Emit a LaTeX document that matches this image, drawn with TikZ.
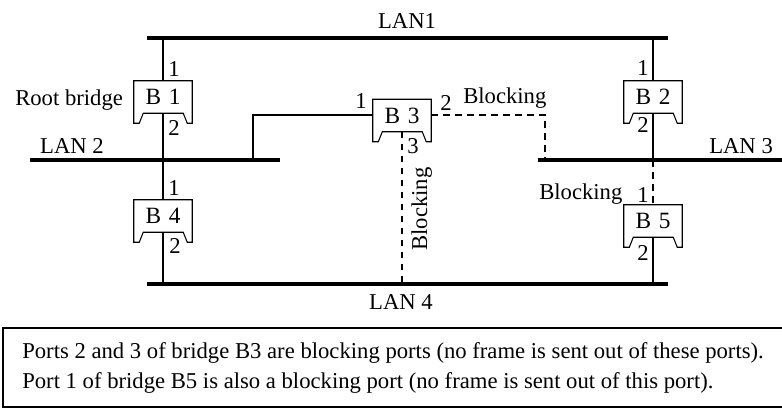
\documentclass[tikz,border=0pt]{standalone}
\usepackage{fontspec}
\setmainfont{Liberation Serif}
\usepackage{tikz}

\tikzset{
  lan/.style = {line width = 3pt},
  link/.style = {line width = 1.6pt},
  thinlink/.style = {line width = 1.1pt},
  block/.style = {line width = 1.4pt, dash pattern = on 5pt off 4pt},
  bridge/.style = {minimum width = 43.5pt, minimum height = 31.5pt, inner sep = 0,
    text height = 12pt, text depth = 7.6pt, font = \fontsize{17.5}{20}\selectfont},
  lbl/.style = {inner sep = 0, font = \fontsize{17}{20}\selectfont},
  note/.style = {inner sep = 0, anchor = base west, font = \fontsize{17}{20}\selectfont},
}
% outline of a bridge, with the notch at its foot
\newcommand\bridgeframe[1]{%
  \draw[line width = .8pt] (#1.south west) -- (#1.north west) -- (#1.north east)
    -- (#1.south east) -- ++(-5, 0) -- ++(-4, -10) -- ++(-40, 0) -- ++(-4, 10) -- cycle;}
\newcommand\bname[1]{B\hspace{.33em}#1}

\begin{document}
\begin{tikzpicture}[x = .75pt, y = -.75pt]
  \useasboundingbox (0, 0) rectangle (782, 409);
  % LANs
  \coordinate (lan1w) at (147, 38);  \coordinate (lan1e) at (668, 38);
  \coordinate (lan2w) at (30, 160);  \coordinate (lan2e) at (280, 160);
  \coordinate (lan3w) at (538, 160); \coordinate (lan3e) at (782, 160);
  \coordinate (lan4w) at (147, 284); \coordinate (lan4e) at (668, 284);
  \draw[lan] (lan1w) -- (lan1e);
  \draw[lan] (lan2w) -- (lan2e);
  \draw[lan] (lan3w) -- (lan3e);
  \draw[lan] (lan4w) -- (lan4e);
  \node[lbl] (t1) at (407, 21) {LAN1};
  \node[lbl] (t2) at (72, 146) {LAN 2};
  \node[lbl, anchor = west] (t3) at (709, 146) {LAN 3};
  \node[lbl] (t4) at (401, 302) {LAN 4};
  % bridges
  \node[bridge] (b1) at (163, 102) {\bname1};   \bridgeframe{b1}
  \node[bridge] (b2) at (653, 102) {\bname2};   \bridgeframe{b2}
  \node[bridge] (b3) at (402, 120.5) {\bname3}; \bridgeframe{b3}
  \node[bridge] (b4) at (163, 221) {\bname4};   \bridgeframe{b4}
  \node[bridge] (b5) at (653, 226) {\bname5};   \bridgeframe{b5}
  \node[lbl, anchor = base west] (root) at (15, 106) {Root bridge};
  % links
  \draw[link] (b1 |- lan1w) -- (b1.north);
  \draw[link] ([yshift = 7.5pt]b1.south) -- (b4.north);
  \draw[link] ([yshift = 7.5pt]b4.south) -- (b4 |- lan4w);
  \draw[link] (b2 |- lan1w) -- (b2.north);
  \draw[link] ([yshift = 7.5pt]b2.south) -- (b2 |- lan3w);
  \draw[block] (b2 |- lan3w) -- (b5.north);
  \draw[link] ([yshift = 7.5pt]b5.south) -- (b5 |- lan4w);
  \coordinate (j2) at (253, 160);
  \coordinate (j3) at (545, 160);
  \draw[thinlink] (j2) |- ([yshift = 4pt]b3.west);
  \draw[block] ([yshift = 4pt]b3.east) -| (j3);
  \draw[block] ([yshift = 7.5pt]b3.south) -- (b3 |- lan4w);
  % ports
  \node[lbl] (p11) at (174, 69) {1};  \node[lbl] (p12) at (174, 128) {2};
  \node[lbl] (p41) at (174, 188) {1}; \node[lbl] (p42) at (175, 246) {2};
  \node[lbl] (p21) at (643, 68) {1};  \node[lbl] (p22) at (643, 125) {2};
  \node[lbl] (p51) at (643, 195) {1}; \node[lbl] (p52) at (643, 253) {2};
  \node[lbl] (p31) at (361, 101) {1}; \node[lbl] (p32) at (446, 103) {2};
  \node[lbl] (p33) at (413, 146) {3};
  \node[lbl, anchor = base west] (bk2) at (463, 104) {Blocking};
  \node[lbl, anchor = base west] (bk5) at (539, 200) {Blocking};
  \node[lbl, anchor = base west, rotate = 90] (bk3) at (427, 251) {Blocking};
  % note
  \draw[line width = 1.4pt] (790, 328) -- (3, 328) -- (3, 407) -- (790, 407);
  \node[note] (n1) at (22, 359) {Ports 2 and 3 of bridge B3 are blocking ports (no frame is sent out of these ports).};
  \node[note] (n2) at (22, 389) {Port 1 of bridge B5 is also a blocking port (no frame is sent out of this port).};
\end{tikzpicture}
\end{document}
